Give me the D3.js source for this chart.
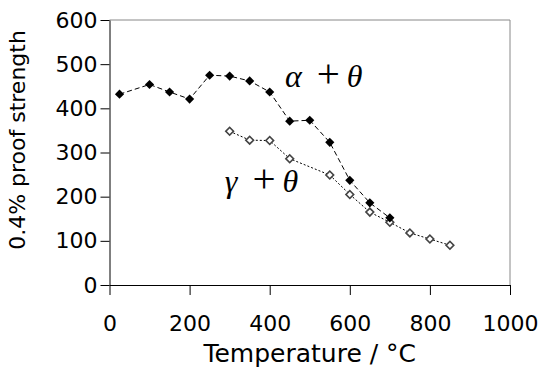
<!DOCTYPE html>
<html>
<head>
<meta charset="utf-8">
<script src="https://cdn.jsdelivr.net/npm/d3@7"></script>
<style>
  body { margin: 0; background: #fff; }
  svg { display: block; }
</style>
</head>
<body>
<svg id="chart" width="544" height="386"></svg>
<script>
// data
const alphaTemp = [25, 100, 150, 200, 250, 300, 350, 400, 450, 500, 550, 600, 650, 700];
const alphaStrength = [432, 454, 437, 421, 475, 473, 462, 437, 371, 373, 323, 237, 186, 152];
const gammaTemp = [300, 350, 400, 450, 550, 600, 650, 700, 750, 800, 850];
const gammaStrength = [348, 328, 327, 286, 249, 205, 165, 142, 118, 104, 90];
const xTicks = [0, 200, 400, 600, 800, 1000];
const yTicks = [0, 100, 200, 300, 400, 500, 600];

const svg = d3.select("#chart");
const margin = { left: 109.5, right: 34, top: 20, bottom: 101 };
const width = +svg.attr("width");
const height = +svg.attr("height");

const x = d3.scaleLinear().domain([0, 1000]).range([margin.left, width - margin.right]);
const y = d3.scaleLinear().domain([0, 600]).range([height - margin.bottom, margin.top]);

// plot frame (top and right in grey)
svg.append("path")
    .attr("d", "M" + x(0) + "," + y(600) + "H" + x(1000) + "V" + y(0))
    .attr("fill", "none")
    .attr("stroke", "#888")
    .attr("stroke-width", 1);

const font = "'DejaVu Sans', Verdana, sans-serif";

// axes
const xAxis = svg.append("g")
    .attr("transform", "translate(0," + y(0) + ")")
    .call(d3.axisBottom(x).tickValues(xTicks).tickFormat(d3.format("d"))
        .tickSize(10).tickPadding(24).tickSizeOuter(0));
const yAxis = svg.append("g")
    .attr("transform", "translate(" + x(0) + ",0)")
    .call(d3.axisLeft(y).tickValues(yTicks).tickSize(9).tickPadding(3).tickSizeOuter(0));

[xAxis, yAxis].forEach(function (g) {
    g.select(".domain").attr("stroke", "#000");
    g.selectAll(".tick line").attr("stroke", "#000");
    g.selectAll("text")
        .attr("fill", "#000")
        .style("font-family", font)
        .style("font-size", "22px");
});
xAxis.selectAll("text").attr("dy", "0.55em");

// axis titles
svg.append("text")
    .attr("x", (x(0) + x(1000)) / 2)
    .attr("y", 362)
    .attr("text-anchor", "middle")
    .style("font-family", font)
    .style("font-size", "25px")
    .text("Temperature / °C");

svg.append("text")
    .attr("transform", "translate(25," + 140 + ") rotate(-90)")
    .attr("text-anchor", "middle")
    .style("font-family", font)
    .style("font-size", "22px")
    .text("0.4% proof strength");

// lines
const alphaData = alphaTemp.map((t, i) => [t, alphaStrength[i]]);
const gammaData = gammaTemp.map((t, i) => [t, gammaStrength[i]]);
const line = d3.line().x(d => x(d[0])).y(d => y(d[1]));

svg.append("path")
    .attr("d", line(gammaData))
    .attr("fill", "none")
    .attr("stroke", "#000")
    .attr("stroke-width", 1)
    .attr("stroke-dasharray", "2,2");

svg.append("path")
    .attr("d", line(alphaData))
    .attr("fill", "none")
    .attr("stroke", "#000")
    .attr("stroke-width", 1)
    .attr("stroke-dasharray", "5,3");

// markers
svg.append("g").selectAll("path")
    .data(gammaData)
    .enter()
    .append("path")
    .attr("d", d3.symbol().type(d3.symbolSquare).size(30))
    .attr("transform", d => "translate(" + x(d[0]) + "," + y(d[1]) + ") rotate(45)")
    .attr("fill", "#fff")
    .attr("stroke", "#444")
    .attr("stroke-width", 1.6);

svg.append("g").selectAll("path")
    .data(alphaData)
    .enter()
    .append("path")
    .attr("d", d3.symbol().type(d3.symbolSquare).size(42))
    .attr("transform", d => "translate(" + x(d[0]) + "," + y(d[1]) + ") rotate(45)")
    .attr("fill", "#000");

// phase labels
const labels = [
    { greek: "α", t: 438, s: 448 },
    { greek: "γ", t: 288, s: 210 }
];
labels.forEach(function (l) {
    const txt = svg.append("text")
        .attr("x", x(l.t))
        .attr("y", y(l.s))
        .style("font-family", "'Liberation Serif', 'Times New Roman', serif")
        .style("font-size", "32px");
    txt.append("tspan").style("font-style", "italic").text(l.greek);
    txt.append("tspan").attr("dx", 15).style("font-size", "41px").text("+");
    txt.append("tspan").attr("dx", 7).style("font-style", "italic").text("θ");
});
</script>
</body>
</html>
